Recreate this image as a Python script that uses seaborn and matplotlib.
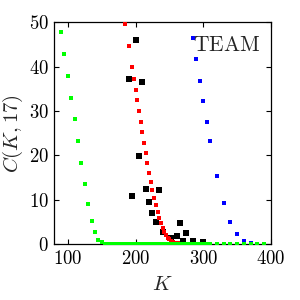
import numpy as np
import pandas as pd
import matplotlib
matplotlib.use("Agg")
import matplotlib.pyplot as plt
from matplotlib.ticker import FuncFormatter, MultipleLocator
import seaborn as sns

# ---- data ----
green_K = [90, 95, 100, 105, 110, 115, 120, 125, 130, 135, 140, 145, 150] + \
          list(range(155, 315, 5)) + list(range(320, 400, 10))
green_C = [47.7, 42.9, 37.8, 33.0, 28.2, 23.2, 18.2, 13.5, 9.0, 5.3, 2.7, 1.0, 0.4] + \
          [0.0] * len(range(155, 315, 5)) + [0.0] * len(range(320, 400, 10))

red_K = [185, 190, 195, 197.5, 200, 202.5, 205, 207.5, 210, 212.5, 215, 217.5,
         220, 222.5, 225, 227.5, 230, 232.5, 235, 237.5, 240, 242.5, 245, 247.5,
         250, 252.5, 255, 257.5, 260, 262.5, 265, 267.5, 270]
red_C = [49.6, 44.7, 39.8, 37.2, 34.8, 32.5, 30.0, 27.5, 25.2, 22.8, 20.5, 18.3,
         16.1, 14.0, 12.2, 10.4, 8.9, 7.3, 5.9, 4.8, 3.7, 2.8, 2.1, 1.5,
         1.1, 0.8, 0.55, 0.38, 0.25, 0.16, 0.1, 0.06, 0.03]

black_K = [190, 200, 210, 195, 205, 215, 220, 235, 225, 230, 265, 275, 241,
           253, 261, 270, 285, 300]
black_C = [37.1, 46.1, 36.6, 10.9, 19.8, 12.5, 9.4, 12.2, 7.0, 5.0, 4.7, 2.6, 2.8,
           1.35, 1.9, 0.8, 0.8, 0.4]

blue_K = [285, 290, 295, 300, 305, 310, 320, 330, 340, 350, 360, 370, 380, 390]
blue_C = [46.5, 41.7, 36.8, 32.2, 27.6, 23.2, 15.4, 9.2, 4.9, 2.2, 0.8, 0.35, 0.1, 0.05]

x_ticks = [100, 200, 300, 400]
y_ticks = [0, 10, 20, 30, 40, 50]
label_text = "TEAM"

# ---- style ----
sns.set_style("ticks")
plt.rcParams["mathtext.fontset"] = "cm"
plt.rcParams["font.family"] = ["DejaVu Serif"]
plt.rcParams["axes.linewidth"] = 0.9

fig = plt.figure(figsize=(3, 3), dpi=100)
ax = fig.add_axes([0.181, 0.186, 0.722, 0.740])

sns.scatterplot(x=black_K, y=black_C, ax=ax, marker="s", s=15, color="black",
                linewidth=0, zorder=2)
sns.scatterplot(x=red_K, y=red_C, ax=ax, marker="s", s=7, color=(1, 0, 0),
                linewidth=0, zorder=3)
sns.scatterplot(x=blue_K, y=blue_C, ax=ax, marker="s", s=7, color=(0, 0, 1),
                linewidth=0, zorder=3)
sns.scatterplot(x=green_K, y=green_C, ax=ax, marker="s", s=7.5, color=(0, 1, 0),
                linewidth=0, zorder=4)

ax.set_xlim(80, 400)
ax.set_ylim(0, 50)
ax.set_xticks(x_ticks)
ax.set_yticks(y_ticks)
fmt = FuncFormatter(lambda v, p: r"$%d$" % v)
ax.xaxis.set_major_formatter(fmt)
ax.yaxis.set_major_formatter(fmt)
ax.tick_params(direction="in", top=True, right=True, length=3.5, width=0.8,
               labelsize=13.5, colors="black", pad=4)
for sp in ax.spines.values():
    sp.set_visible(True)
    sp.set_color("black")

ax.set_xlabel(r"$K$", fontsize=15, labelpad=5)
ax.set_ylabel(r"$C(K,17)$", fontsize=15, labelpad=3)

ax.text(0.952, 0.945, r"$\mathrm{%s}$" % label_text, transform=ax.transAxes,
        ha="right", va="top", fontsize=15.5)

fig.savefig("out.png", dpi=100)
